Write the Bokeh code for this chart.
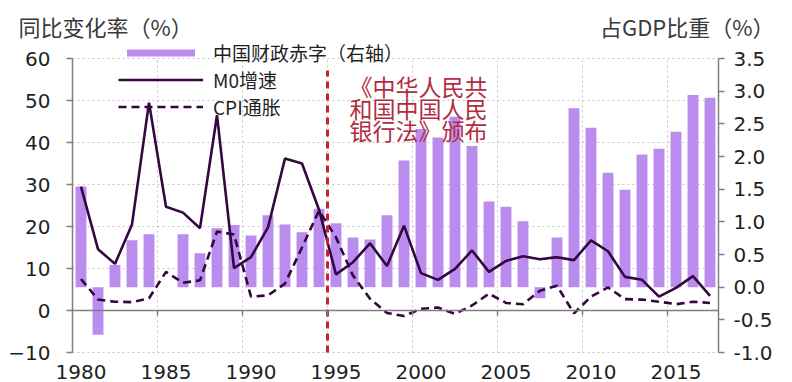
from bokeh.plotting import figure
from bokeh.models import (Range1d, LinearAxis, FixedTicker, Label, Legend, LegendItem,
                          PrintfTickFormatter)
from bokeh.core.properties import value
from bokeh.embed import file_html
from bokeh.resources import INLINE

# ---------------- data ----------------
years = list(range(1980, 2018))
deficit = [1.54, -0.73, 0.34, 0.72, 0.81, 0.0, 0.81, 0.52, 0.90, 0.95,
           0.79, 1.10, 0.96, 0.84, 1.20, 0.98, 0.76, 0.73, 1.10, 1.94,
           2.42, 2.29, 2.61, 2.16, 1.31, 1.23, 1.01, -0.17, 0.76, 2.74,
           2.44, 1.75, 1.49, 2.03, 2.12, 2.38, 2.94, 2.90]
m0 = [29.5, 14.6, 11.1, 20.5, 49.5, 24.7, 23.3, 19.6, 46.5, 10.1,
      12.7, 19.8, 36.2, 35.0, 24.0, 8.6, 11.5, 16.0, 10.6, 20.2,
      8.9, 7.3, 9.9, 14.3, 9.2, 11.8, 12.9, 12.2, 12.7, 12.0,
      16.7, 14.1, 8.0, 7.3, 3.3, 5.4, 8.2, 3.5]
cpi = [7.5, 2.6, 2.1, 2.0, 2.9, 9.2, 6.6, 7.2, 18.8, 18.1,
       3.3, 3.6, 6.4, 15.0, 23.8, 17.4, 8.3, 2.8, -0.6, -1.3,
       0.4, 0.7, -0.8, 1.2, 4.0, 1.8, 1.5, 4.7, 5.9, -0.7,
       3.3, 5.5, 2.7, 2.6, 2.1, 1.5, 2.1, 1.8]
x_labels = [1980, 1985, 1990, 1995, 2000, 2005, 2010, 2015]
left_ticks = [-10, 0, 10, 20, 30, 40, 50, 60]
right_ticks = [-1.0, -0.5, 0.0, 0.5, 1.0, 1.5, 2.0, 2.5, 3.0, 3.5]
policy_year = 1995
note_lines = ["《中华人民共", "和国中国人民", "银行法》颁布"]
series_names = ["中国财政赤字（右轴）", "M0增速", "CPI通胀"]
left_title = "同比变化率（%）"
right_title = "占GDP比重（%）"

# ---------------- layout / style ----------------
W, H = 792, 382
FL, FR, FT, FB = 72, 718, 58, 352          # plot-area box in pixels
CJK = "Noto Sans CJK SC"
NUM = "DejaVu Sans"
BAR = "#BA8CEE"
LINE = "#360640"
RED = "#C8232C"
TXT = "#1F1F1F"
AX = "#7F7F7F"
GRID = "#C4C4C4"

X0, X1 = years[0] - 0.5, years[-1] + 0.5
Y0, Y1 = left_ticks[0], left_ticks[-1]
R0, R1 = right_ticks[0], right_ticks[-1]
sx = (FR - FL) / (X1 - X0)
sy = (FB - FT) / (Y1 - Y0)
sr = (FB - FT) / (R1 - R0)
xr = (X0 - FL / sx, X1 + (W - FR) / sx)
yr_ = (Y0 - (H - FB) / sy, Y1 + FT / sy)
rr = (R0 - (H - FB) / sr, R1 + FT / sr)


def px_x(px):
    return xr[0] + px / sx


def px_y(py):
    return yr_[1] - py / sy


boundaries = [y - 0.5 for y in x_labels[1:]]

p = figure(width=W, height=H, output_backend="svg", toolbar_location=None,
           x_range=Range1d(*xr), y_range=Range1d(*yr_), min_border=0)
p.extra_y_ranges = {"right": Range1d(*rr)}
p.outline_line_color = None
p.xgrid.visible = False
p.ygrid.visible = False

# grid lines restricted to the plot box
gy = [t for t in left_ticks if t != 0]
p.segment(x0=[X0] * len(gy), x1=[X1] * len(gy), y0=gy, y1=gy,
          line_color=GRID, line_width=1, line_dash="2 3")
p.segment(x0=boundaries, x1=boundaries, y0=[Y0] * len(boundaries), y1=[Y1] * len(boundaries),
          line_color=GRID, line_width=1, line_dash="2 3")

# left axis
ya = p.yaxis[0]
ya.fixed_location = X0
ya.bounds = (Y0, Y1)
ya.ticker = FixedTicker(ticks=left_ticks)
ya.axis_line_color = AX
ya.axis_line_width = 1.5
ya.major_tick_line_color = AX
ya.major_tick_line_width = 1.5
ya.major_tick_out = 6
ya.major_tick_in = 0
ya.minor_tick_line_color = None
ya.major_label_text_font = NUM
ya.major_label_text_font_size = "20px"
ya.major_label_text_color = TXT
ya.major_label_standoff = 16

# right axis
ra = LinearAxis(y_range_name="right", ticker=FixedTicker(ticks=right_ticks),
                formatter=PrintfTickFormatter(format="%.1f"),
                fixed_location=X1, bounds=(R0, R1))
ra.axis_line_color = AX
ra.axis_line_width = 1.5
ra.major_tick_line_color = AX
ra.major_tick_line_width = 1.5
ra.major_tick_out = 6
ra.major_tick_in = 0
ra.minor_tick_line_color = None
ra.major_label_text_font = NUM
ra.major_label_text_font_size = "20px"
ra.major_label_text_color = TXT
ra.major_label_standoff = 9
p.add_layout(ra, "right")

# bottom axis (labels only)
xa = p.xaxis[0]
xa.fixed_location = Y0
xa.ticker = FixedTicker(ticks=x_labels)
xa.axis_line_color = None
xa.major_tick_line_color = None
xa.minor_tick_line_color = None
xa.major_label_text_font = NUM
xa.major_label_text_font_size = "20px"
xa.major_label_text_color = TXT
xa.major_label_standoff = 6

# zero-line axis with boundary ticks
xz = LinearAxis(fixed_location=0, ticker=FixedTicker(ticks=boundaries), bounds=(X0, X1))
xz.axis_line_color = AX
xz.axis_line_width = 1.5
xz.major_tick_line_color = AX
xz.major_tick_line_width = 1.5
xz.major_tick_out = 5
xz.major_tick_in = 0
xz.minor_tick_line_color = None
xz.major_label_text_alpha = 0
xz.major_label_text_font_size = "1px"
p.add_layout(xz, "below")

# glyphs
bars = p.vbar(x=years, top=deficit, bottom=0, width=0.64, y_range_name="right",
              fill_color=BAR, line_color=None)
l_m0 = p.line(years, m0, line_color=LINE, line_width=2.6)
l_cpi = p.line(years, cpi, line_color=LINE, line_width=2.6, line_dash="8 5")

p.segment(x0=[policy_year - 0.5], y0=[Y0], x1=[policy_year - 0.5], y1=[px_y(70)],
          line_color=RED, line_width=3, line_dash="7 5")

p.text(x=[px_x(349)] * 3, y=[px_y(85), px_y(107), px_y(129)], text=note_lines,
       text_font=value(CJK), text_font_size="23px", text_color="#B22D3F",
       text_align="left", text_baseline="middle")

# titles
p.add_layout(Label(x=px_x(18), y=px_y(25), text=left_title, text_font=CJK,
                   text_font_size="22px", text_color="#3A3A3A",
                   text_align="left", text_baseline="middle"))
p.add_layout(Label(x=px_x(774), y=px_y(25), text=right_title, text_font=CJK,
                   text_font_size="22px", text_color="#3A3A3A",
                   text_align="right", text_baseline="middle"))

# legend
legend = Legend(items=[LegendItem(label=series_names[0], renderers=[bars]),
                       LegendItem(label=series_names[1], renderers=[l_m0]),
                       LegendItem(label=series_names[2], renderers=[l_cpi])],
                location=(118, H - 120), orientation="vertical",
                glyph_width=85, glyph_height=9, label_standoff=10,
                label_text_font=CJK, label_text_font_size="19px",
                label_text_color=TXT, label_height=20, spacing=0,
                padding=0, margin=0,
                background_fill_alpha=0, border_line_alpha=0)
p.add_layout(legend, "center")

open("out.html", "w").write(file_html(p, INLINE))
